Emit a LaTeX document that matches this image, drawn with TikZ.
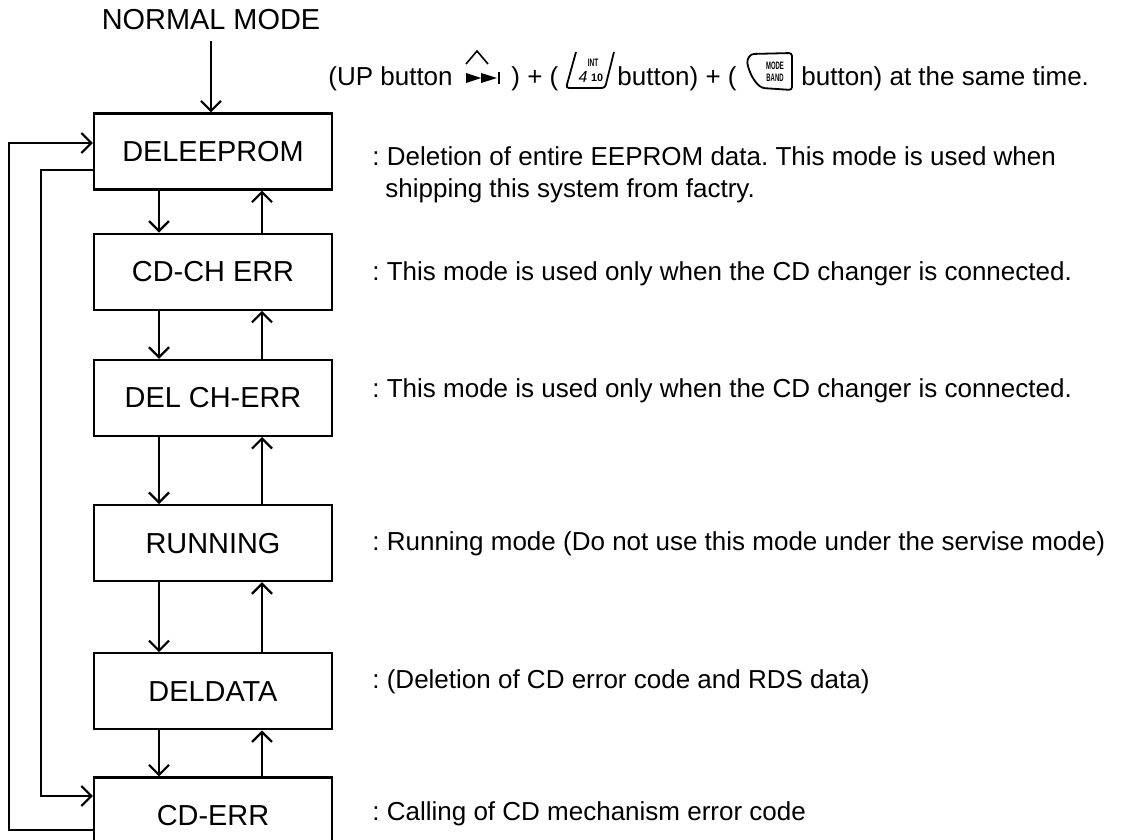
\documentclass[tikz,border=0pt]{standalone}
\usepackage{fontspec}
\setmainfont{Liberation Sans}
\usetikzlibrary{arrows.meta,positioning}
\frenchspacing
\tikzset{%
  ModeBox/.style={draw,line width=1.1pt,minimum width=119pt,minimum height=38pt,inner sep=0pt,font=\fontsize{14.45}{17}\selectfont},
  NoteText/.style={anchor=base west,inner sep=0pt,font=\fontsize{13}{16}\selectfont},
  Flow/.style={line width=1.1pt,-{Straight Barb[length=5pt,width=10pt]}},
  IconText/.style={inner sep=0pt,font=\fontsize{5.4}{5.4}\bfseries\selectfont}
}

\begin{document}
\begin{tikzpicture}[x=0.5pt,y=-0.5pt]
  \clip (0,0) rectangle (1125,840);
  % mode boxes
  \node[NoteText,anchor=base,inner sep=5pt,font=\fontsize{14.45}{17}\selectfont] (normal) at (211,30) {NORMAL MODE};
  \node[ModeBox] (deleeprom) at (213,151.5) {DELEEPROM};
  \node[ModeBox,below=21pt of deleeprom] (cdcherr) {CD-CH ERR};
  \node[ModeBox,below=24pt of cdcherr] (delcherr) {DEL CH-ERR};
  \node[ModeBox,below=33.5pt of delcherr] (running) {RUNNING};
  \node[ModeBox,below=35pt of running] (deldata) {DELDATA};
  \node[ModeBox,below=23pt of deldata] (cderr) {CD-ERR};
  \draw[Flow] (normal.south) -- (normal.south |- deleeprom.north);
  \foreach \upper/\lower in {deleeprom/cdcherr,cdcherr/delcherr,delcherr/running,running/deldata,deldata/cderr}{
    \draw[Flow] ([xshift=-27pt]\upper.south) -- ([xshift=-27pt]\lower.north);
    \draw[Flow] ([xshift=24.5pt]\lower.north) -- ([xshift=24.5pt]\upper.south);
  }
  \draw[Flow] ([yshift=-7.25pt]cderr.west) -- ++(-84,0) |- ([yshift=4.25pt]deleeprom.west);
  \draw[Flow] ([yshift=-9.25pt]deleeprom.west) -- ++(-52,0) |- ([yshift=9.75pt]cderr.west);
  % notes
  \node[NoteText] (noteDel) at (372,166) {: Deletion of entire EEPROM data. This mode is used when};
  \node[NoteText] (noteShip) at (385,198) {shipping this system from factry.};
  \node[NoteText] (noteChA) at (372,280) {: This mode is used only when the CD changer is connected.};
  \node[NoteText] (noteChB) at (372,397) {: This mode is used only when the CD changer is connected.};
  \node[NoteText] (noteRun) at (372,550) {: Running mode (Do not use this mode under the servise mode)};
  \node[NoteText] (noteData) at (372,688) {: (Deletion of CD error code and RDS data)};
  \node[NoteText] (noteErr) at (372,820) {: Calling of CD mechanism error code};
  % header with buttons
  \node[NoteText] (hdrUp) at (328,86) {(UP button};
  \node[NoteText] (hdrPlusA) at (511,86) {) + (};
  \node[NoteText] (hdrPlusB) at (617,86) {button) + (};
  \node[NoteText] (hdrEnd) at (801,86) {button) at the same time.};
  % UP button
  \draw[line width=0.8pt] (466,64) -- (477,51) -- (488,64);
  \fill (466,73) -- (481,78) -- (466,83) -- cycle;
  \fill (481,73) -- (497,78) -- (481,83) -- cycle;
  \draw[line width=0.9pt] (499,72) -- (499,84);
  % INT button
  \draw[line width=0.9pt,rounded corners=1.5pt] (576,52) -- (566,88) -- (605,88) -- (614,52);
  \node[IconText] (intTop) at (593,63) {\scalebox{0.6}[1]{INT}};
  \node[inner sep=0pt,font=\fontsize{8}{8}\selectfont\itshape] (intFour) at (583,77) {4};
  \node[IconText] (intTen) at (597,78) {10};
  % MODE button
  \draw[line width=0.9pt,rounded corners=1.5pt] (751,54) -- (792,53) -- (792,90) -- (762,88) .. controls (752,80) and (748,68) .. (747,60) -- cycle;
  \node[IconText] (modeTop) at (775,66) {\scalebox{0.55}[1]{MODE}};
  \node[IconText] (modeBot) at (775,78) {\scalebox{0.55}[1]{BAND}};
\end{tikzpicture}
\end{document}
